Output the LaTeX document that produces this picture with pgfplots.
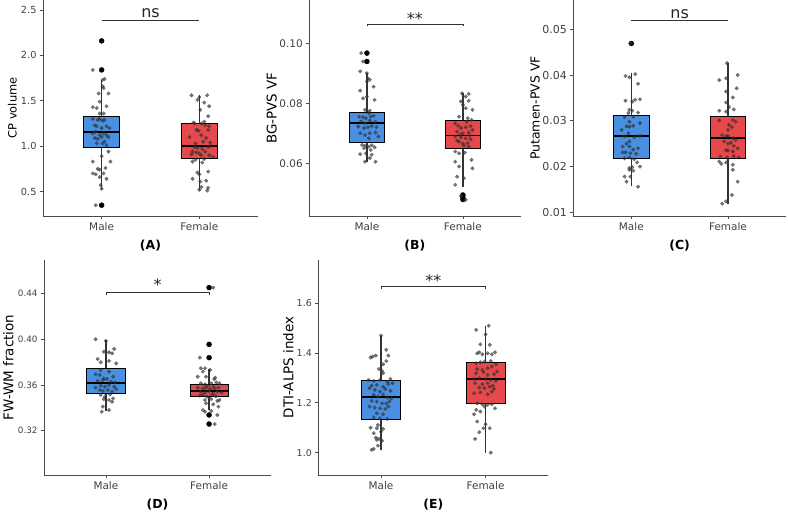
\documentclass[border=0pt]{standalone}
\usepackage{pgfplots}
\pgfplotsset{compat=1.18}
\usepgfplotslibrary{statistics}
\usepackage{fontspec}
\setmainfont{DejaVu Sans}
\definecolor{mblue}{RGB}{74,144,226}
\definecolor{fred}{RGB}{231,72,76}
\tikzset{sigtxt/.style={anchor=base, font=\fontsize{16}{16}\selectfont, text=black!85}}
\pgfplotsset{
 panel/.style={
  scale only axis, clip=false,
  axis x line*=bottom, axis y line*=left,
  axis line style={black!70, line width=0.9bp},
  tick align=outside, major tick length=3bp,
  tick style={black!70, line width=0.8bp},
  xmin=0.4, xmax=2.6, xtick={1,2}, xticklabels={Male,Female},
  xticklabel style={font=\fontsize{10.5}{12}\selectfont, text=black!75},
  yticklabel style={font=\fontsize{#1}{12}\selectfont, text=black!75},
  /pgf/number format/assume math mode=true,
  scaled y ticks=false,
  yticklabel style={/pgf/number format/.cd, fixed, fixed zerofill, precision=2},
  ylabel style={anchor=center},
  xlabel style={font=\bfseries\fontsize{12.5}{15}\selectfont, anchor=center, at={(axis description cs:0.5,-0.137)}},
 },
 jit/.style={only marks, mark=*, mark size=1.9bp, mark options={draw=black!80, fill=black!80, line width=0.1bp, opacity=0.68}},
 outl/.style={only marks, mark=*, mark size=2.5bp, mark options={draw=none, fill=black}},
 bx/.style={draw=black, line width=0.8bp, fill=#1, boxplot/draw direction=y, boxplot/box extend=0.37, boxplot/whisker extend=0, boxplot/every median/.style={line width=1.8bp}, boxplot/every whisker/.style={black!80, line width=1.2bp}},
 sig/.style={black!80, line width=0.8bp},
}
\begin{document}
\begin{tikzpicture}
\useasboundingbox (0,0) rectangle (788bp,514bp);
% ---------------- (A)
\begin{axis}[panel=9.8, at={(43bp,298bp)}, anchor=south west, width=215bp, height=216bp,
  ymin=0.231, ymax=2.61, ytick={0.5,1.0,1.5,2.0,2.5}, yticklabel style={/pgf/number format/precision=1},
  ylabel={CP volume}, ylabel style={at={(axis description cs:-0.142,0.5)}, font=\fontsize{11.5}{14}\selectfont}, xlabel={(A)}]
\addplot[bx=mblue, boxplot prepared={draw position=1, lower whisker=0.525, lower quartile=0.988, median=1.156, upper quartile=1.325, upper whisker=1.729}] coordinates {};
\addplot[bx=fred, boxplot prepared={draw position=2, lower whisker=0.518, lower quartile=0.867, median=1.002, upper quartile=1.252, upper whisker=1.564}] coordinates {};
\addplot[outl] coordinates {(1,2.16) (1,1.84) (1,0.35)};
\addplot[jit] coordinates {(0.91,1.84) (1.01,1.73) (1.03,1.74) (1.01,1.66) (1.02,1.64) (0.97,1.58) (1.07,1.58) (0.98,1.49) (1.05,1.44) (0.91,1.43) (0.95,1.42) (0.98,1.36) (1.02,1.36) (0.91,1.30) (0.96,1.29) (0.98,1.30) (1.01,1.28) (1.03,1.29) (0.93,1.23) (0.95,1.22) (1.00,1.20) (1.05,1.22) (1.08,1.20) (0.91,1.14) (0.94,1.16) (0.98,1.12) (1.02,1.14) (1.05,1.12) (0.93,1.09) (0.96,1.08) (1.00,1.10) (1.07,1.10) (1.03,1.05) (0.95,1.03) (1.01,1.03) (1.05,1.01) (1.07,0.94) (1.00,0.89) (0.91,0.83) (1.09,0.83) (0.96,0.75) (0.98,0.74) (1.04,0.76) (0.91,0.70) (0.94,0.69) (1.02,0.70) (0.98,0.66) (1.05,0.64) (0.99,0.57) (1.00,0.53) (0.94,0.35)};
\addplot[jit] coordinates {(1.92,1.56) (2.00,1.54) (2.08,1.56) (1.98,1.51) (2.05,1.48) (2.10,1.44) (2.01,1.40) (2.09,1.33) (1.95,1.25) (2.02,1.25) (2.06,1.23) (2.10,1.22) (1.97,1.18) (1.99,1.17) (2.09,1.18) (1.90,1.10) (2.02,1.12) (2.07,1.09) (2.04,1.05) (1.95,0.99) (1.98,0.98) (2.03,0.97) (2.09,0.99) (2.12,1.00) (1.93,0.94) (1.97,0.93) (2.00,0.92) (2.02,0.90) (2.06,0.94) (2.10,0.90) (2.14,0.88) (1.93,0.83) (1.96,0.85) (2.03,0.82) (1.98,0.71) (2.00,0.69) (2.09,0.72) (1.93,0.64) (2.01,0.61) (2.07,0.62) (2.02,0.55) (2.09,0.54) (2.08,0.51) (2.00,0.52) (1.94,1.26) (2.05,1.27) (1.96,1.03) (2.11,1.04) (1.92,0.91) (2.05,0.86)};
\addplot[sig] coordinates {(1,2.39) (2,2.39)};
\node[sigtxt, yshift=2.5bp] at (axis cs:1.5,2.39) {ns};
\end{axis}
% ---------------- (B)
\begin{axis}[panel=10.5, at={(309.3bp,298bp)}, anchor=south west, width=211.2bp, height=216bp,
  ymin=0.0424, ymax=0.1144, ytick={0.06,0.08,0.10},
  ylabel={BG-PVS VF}, ylabel style={at={(axis description cs:-0.178,0.5)}, font=\fontsize{13.5}{15}\selectfont}, xlabel={(B)}]
\addplot[bx=mblue, boxplot prepared={draw position=1, lower whisker=0.0605, lower quartile=0.0670, median=0.0733, upper quartile=0.0769, upper whisker=0.0902}] coordinates {};
\addplot[bx=fred, boxplot prepared={draw position=2, lower whisker=0.0522, lower quartile=0.0650, median=0.0692, upper quartile=0.0742, upper whisker=0.0835}] coordinates {};
\addplot[outl] coordinates {(1,0.0967) (1,0.0939) (2,0.0494) (2,0.0486) (2,0.0479)};
\addplot[jit] coordinates {(0.94,0.0967) (0.96,0.0939) (0.93,0.0906) (1.00,0.0900) (1.01,0.0883) (1.03,0.0878) (1.00,0.0872) (0.93,0.0842) (1.07,0.0855) (0.96,0.0816) (1.08,0.0811) (1.00,0.0822) (0.98,0.0778) (1.03,0.0775) (1.02,0.0767) (0.92,0.0755) (0.96,0.0753) (0.99,0.0750) (1.04,0.0755) (1.07,0.0758) (0.94,0.0739) (0.98,0.0733) (1.03,0.0742) (1.09,0.0738) (0.91,0.0722) (0.97,0.0717) (1.01,0.0720) (1.05,0.0724) (1.10,0.0720) (0.93,0.0700) (0.98,0.0694) (1.03,0.0700) (1.09,0.0702) (1.02,0.0683) (1.12,0.0689) (0.95,0.0661) (0.98,0.0658) (1.02,0.0655) (1.05,0.0660) (1.08,0.0653) (0.97,0.0650) (1.04,0.0644) (0.93,0.0630) (0.99,0.0633) (1.05,0.0628) (1.03,0.0617) (0.98,0.0605) (1.09,0.0605)};
\addplot[jit] coordinates {(1.99,0.0833) (2.06,0.0831) (2.03,0.0822) (1.98,0.0806) (2.06,0.0808) (2.00,0.0794) (2.03,0.0783) (2.10,0.0778) (1.96,0.0755) (2.05,0.0750) (2.09,0.0744) (1.92,0.0733) (1.98,0.0717) (2.03,0.0720) (2.08,0.0724) (1.94,0.0705) (2.00,0.0700) (2.06,0.0702) (2.10,0.0711) (1.92,0.0689) (1.98,0.0687) (2.03,0.0683) (2.08,0.0680) (1.96,0.0672) (2.05,0.0667) (2.01,0.0658) (2.06,0.0655) (1.92,0.0639) (1.96,0.0633) (2.02,0.0635) (1.92,0.0605) (1.96,0.0589) (2.09,0.0611) (2.10,0.0583) (1.94,0.0555) (2.01,0.0550) (1.92,0.0528) (1.98,0.0491) (2.03,0.0478) (1.95,0.0725) (2.04,0.0738) (1.97,0.0695) (2.07,0.0692) (1.94,0.0675) (2.00,0.0665)};
\addplot[sig] coordinates {(1,0.1057) (1,0.1064) (2,0.1064) (2,0.1057)};
\node[sigtxt] at (axis cs:1.5,0.1064) {**};
\end{axis}
% ---------------- (C)
\begin{axis}[panel=11, at={(573.3bp,298bp)}, anchor=south west, width=212.7bp, height=216bp,
  ymin=0.0092, ymax=0.0564, ytick={0.01,0.02,0.03,0.04,0.05},
  ylabel={Putamen-PVS VF}, ylabel style={at={(axis description cs:-0.18,0.5)}, font=\fontsize{12.5}{15}\selectfont}, xlabel={(C)}]
\addplot[bx=mblue, boxplot prepared={draw position=1, lower whisker=0.0158, lower quartile=0.0218, median=0.0266, upper quartile=0.0311, upper whisker=0.0404}] coordinates {};
\addplot[bx=fred, boxplot prepared={draw position=2, lower whisker=0.0118, lower quartile=0.0218, median=0.0262, upper quartile=0.0309, upper whisker=0.0427}] coordinates {};
\addplot[outl] coordinates {(1,0.0469)};
\addplot[jit] coordinates {(0.99,0.0469) (0.94,0.0398) (0.98,0.0395) (1.04,0.0402) (1.07,0.0381) (0.94,0.0344) (1.04,0.0346) (1.09,0.0347) (1.01,0.0342) (0.98,0.0324) (1.01,0.0322) (1.07,0.0318) (0.97,0.0317) (1.02,0.0309) (0.93,0.0308) (0.98,0.0298) (1.09,0.0295) (0.95,0.0288) (0.98,0.0287) (1.02,0.0289) (0.90,0.0280) (0.97,0.0273) (0.93,0.0266) (1.03,0.0264) (1.09,0.0267) (0.98,0.0255) (0.95,0.0250) (0.91,0.0244) (0.98,0.0244) (1.02,0.0237) (1.07,0.0240) (0.91,0.0231) (0.94,0.0231) (0.99,0.0229) (1.05,0.0228) (0.93,0.0218) (0.98,0.0220) (1.03,0.0216) (1.06,0.0209) (0.98,0.0197) (1.01,0.0199) (1.09,0.0200) (0.98,0.0193) (1.02,0.0191) (0.93,0.0178) (0.99,0.0178) (0.95,0.0167) (1.07,0.0156)};
\addplot[jit] coordinates {(1.99,0.0426) (1.91,0.0389) (1.98,0.0393) (2.10,0.0400) (2.09,0.0371) (1.98,0.0364) (2.05,0.0351) (1.98,0.0340) (2.01,0.0330) (2.06,0.0325) (1.91,0.0322) (1.98,0.0320) (1.91,0.0301) (2.05,0.0302) (2.08,0.0298) (2.01,0.0291) (2.04,0.0286) (2.00,0.0280) (1.94,0.0269) (1.98,0.0266) (2.00,0.0267) (2.05,0.0262) (2.08,0.0258) (1.96,0.0255) (2.03,0.0252) (2.00,0.0250) (2.06,0.0245) (2.10,0.0240) (1.98,0.0236) (2.00,0.0235) (2.05,0.0233) (1.92,0.0222) (1.99,0.0220) (2.06,0.0223) (2.11,0.0220) (1.91,0.0211) (1.93,0.0206) (1.98,0.0209) (2.05,0.0204) (2.05,0.0193) (2.10,0.0167) (2.04,0.0138) (1.98,0.0124) (1.94,0.0119)};
\addplot[sig] coordinates {(1,0.05188) (2,0.05188)};
\node[sigtxt, yshift=2.5bp] at (axis cs:1.5,0.05188) {ns};
\end{axis}
% ---------------- (D)
\begin{axis}[panel=8.8, at={(44bp,39bp)}, anchor=south west, width=227bp, height=215bp,
  ymin=0.2813, ymax=0.4691, ytick={0.32,0.36,0.40,0.44},
  ylabel={FW-WM fraction}, ylabel style={at={(axis description cs:-0.157,0.5)}, font=\fontsize{13.5}{15}\selectfont}, xlabel={(D)}]
\addplot[bx=mblue, boxplot prepared={draw position=1, lower whisker=0.3372, lower quartile=0.3526, median=0.3619, upper quartile=0.3745, upper whisker=0.3992}] coordinates {};
\addplot[bx=fred, boxplot prepared={draw position=2, lower whisker=0.3380, lower quartile=0.3500, median=0.3550, upper quartile=0.3605, upper whisker=0.3739}] coordinates {};
\addplot[outl] coordinates {(2,0.4450) (2,0.3954) (2,0.3838) (2,0.3337) (2,0.3258)};
\addplot[jit] coordinates {(0.90,0.3999) (1.00,0.3984) (1.08,0.3914) (0.98,0.3890) (1.03,0.3884) (1.06,0.3876) (0.92,0.3826) (0.95,0.3797) (1.03,0.3809) (1.10,0.3788) (0.95,0.3730) (0.90,0.3692) (0.94,0.3686) (1.03,0.3716) (1.07,0.3672) (0.98,0.3657) (0.92,0.3634) (0.97,0.3643) (1.01,0.3651) (1.05,0.3628) (1.09,0.3622) (0.95,0.3593) (0.99,0.3584) (1.03,0.3599) (0.90,0.3576) (1.08,0.3584) (0.94,0.3555) (0.97,0.3547) (1.02,0.3555) (1.06,0.3541) (1.10,0.3564) (0.95,0.3512) (0.99,0.3497) (1.04,0.3517) (0.98,0.3477) (1.07,0.3482) (1.03,0.3468) (1.06,0.3453) (0.97,0.3410) (1.03,0.3380) (0.96,0.3366)};
\addplot[jit] coordinates {(2.04,0.4450) (1.91,0.3838) (2.08,0.3337) (2.055,0.3258) (1.92,0.3745) (1.96,0.3745) (1.94,0.3716) (2.01,0.3730) (1.89,0.3672) (1.97,0.3672) (2.05,0.3651) (2.06,0.3663) (1.92,0.3614) (1.96,0.3605) (2.02,0.3614) (2.07,0.3622) (2.10,0.3614) (1.99,0.3593) (2.04,0.3584) (1.89,0.3576) (1.94,0.3570) (1.97,0.3576) (2.01,0.3564) (2.055,0.3570) (2.09,0.3576) (1.92,0.3541) (1.96,0.3535) (2.00,0.3547) (2.04,0.3526) (2.08,0.3541) (2.12,0.3535) (1.91,0.3506) (1.94,0.3512) (1.98,0.3497) (2.03,0.3512) (2.065,0.3500) (1.96,0.3468) (2.02,0.3477) (2.08,0.3459) (2.10,0.3468) (1.97,0.3439) (2.04,0.3430) (2.09,0.3410) (1.94,0.3380) (2.02,0.3372) (1.96,0.3366)};
\addplot[sig] coordinates {(1,0.4385) (1,0.4409) (2,0.4409) (2,0.4385)};
\node[sigtxt, yshift=1.5bp] at (axis cs:1.5,0.4409) {*};
\end{axis}
% ---------------- (E)
\begin{axis}[panel=9.5, at={(318.3bp,39bp)}, anchor=south west, width=230bp, height=215bp,
  ymin=0.910, ymax=1.774, ytick={1.0,1.2,1.4,1.6}, yticklabel style={/pgf/number format/precision=1},
  ylabel={DTI-ALPS index}, ylabel style={at={(axis description cs:-0.13,0.5)}, font=\fontsize{13.5}{15}\selectfont}, xlabel={(E)}]
\addplot[bx=mblue, boxplot prepared={draw position=1, lower whisker=1.0107, lower quartile=1.1340, median=1.2224, upper quartile=1.2907, upper whisker=1.4701}] coordinates {};
\addplot[bx=fred, boxplot prepared={draw position=2, lower whisker=1.000, lower quartile=1.1996, median=1.2947, upper quartile=1.3616, upper whisker=1.5103}] coordinates {};
\addplot[jit] coordinates {(1.00,1.470) (1.05,1.413) (0.90,1.382) (0.92,1.386) (0.95,1.390) (1.07,1.390) (1.05,1.368) (1.02,1.355) (0.98,1.336) (1.01,1.328) (1.02,1.319) (0.88,1.292) (0.93,1.288) (0.99,1.292) (1.06,1.285) (1.09,1.296) (1.11,1.279) (0.91,1.269) (0.96,1.272) (1.02,1.265) (1.07,1.275) (0.89,1.259) (0.94,1.252) (0.99,1.245) (1.04,1.256) (1.09,1.248) (0.93,1.232) (0.97,1.225) (1.02,1.234) (1.06,1.221) (1.10,1.218) (0.91,1.208) (0.96,1.205) (1.01,1.198) (1.05,1.197) (1.08,1.205) (0.89,1.185) (0.94,1.181) (0.99,1.178) (1.04,1.175) (1.07,1.185) (0.96,1.158) (1.02,1.154) (0.93,1.141) (0.99,1.138) (1.06,1.135) (0.97,1.111) (0.90,1.100) (0.96,1.098) (1.02,1.095) (0.93,1.078) (1.00,1.084) (0.95,1.060) (0.98,1.055) (0.96,1.051) (1.01,1.047) (0.97,1.028) (0.93,1.015) (0.91,1.011)};
\addplot[jit] coordinates {(1.91,1.493) (2.03,1.510) (2.00,1.475) (1.95,1.435) (2.04,1.433) (2.09,1.403) (1.92,1.399) (1.94,1.403) (1.97,1.395) (2.02,1.399) (2.06,1.395) (1.99,1.366) (1.91,1.359) (1.95,1.363) (2.05,1.368) (2.10,1.355) (1.92,1.336) (1.97,1.332) (2.02,1.339) (2.06,1.346) (1.91,1.319) (1.98,1.323) (2.02,1.312) (2.08,1.315) (2.11,1.326) (1.89,1.296) (1.94,1.299) (2.00,1.296) (2.05,1.292) (2.10,1.288) (1.90,1.279) (1.97,1.275) (2.02,1.279) (2.07,1.269) (1.94,1.261) (1.99,1.259) (2.04,1.265) (2.08,1.256) (1.89,1.238) (1.95,1.242) (2.02,1.234) (2.06,1.245) (1.92,1.198) (1.97,1.194) (2.02,1.192) (2.06,1.194) (2.09,1.178) (1.99,1.185) (1.91,1.172) (1.89,1.154) (1.95,1.165) (1.92,1.125) (2.00,1.114) (1.98,1.098) (1.94,1.082) (2.04,1.098) (1.90,1.055) (2.05,1.000)};
\addplot[sig] coordinates {(1,1.657) (1,1.667) (2,1.667) (2,1.657)};
\node[sigtxt] at (axis cs:1.5,1.667) {**};
\end{axis}
\end{tikzpicture}
\end{document}
